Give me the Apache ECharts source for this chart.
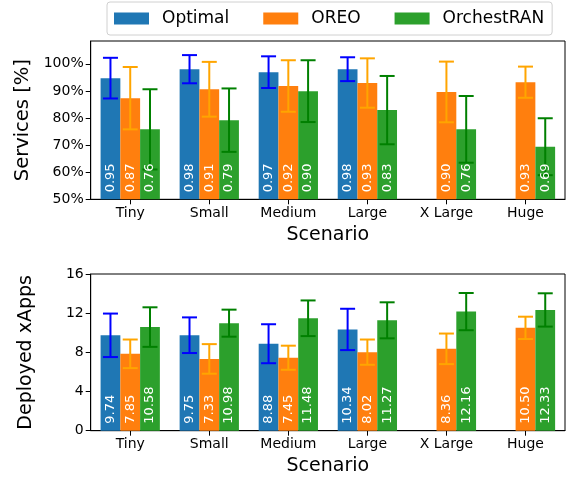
<!DOCTYPE html>
<html><head><meta charset="utf-8">
<script src="https://cdn.jsdelivr.net/npm/echarts@6/dist/echarts.min.js"></script>
<style>html,body{margin:0;padding:0;background:#fff}#c{width:570px;height:483px}</style>
</head><body><div id="c"></div>
<script>
// ---- data ----
const categories = ['Tiny', 'Small', 'Medium', 'Large', 'X Large', 'Huge'];
const seriesNames = ['Optimal', 'OREO', 'OrchestRAN'];

const servOptimal = [0.947, 0.980, 0.969, 0.980, null, null];
const servOREO = [0.873, 0.906, 0.918, 0.929, 0.896, 0.932];
const servOrch = [0.758, 0.792, 0.899, 0.829, 0.758, 0.694];
const servOptimalErr = [0.075, 0.052, 0.0585, 0.044, null, null];
const servOREOErr = [0.115, 0.101, 0.095, 0.091, 0.112, 0.0575];
const servOrchErr = [0.148, 0.117, 0.114, 0.126, 0.123, 0.105];

const appsOptimal = [9.74, 9.75, 8.88, 10.34, null, null];
const appsOREO = [7.85, 7.33, 7.45, 8.02, 8.36, 10.50];
const appsOrch = [10.58, 10.98, 11.48, 11.27, 12.16, 12.33];
const appsOptimalErr = [2.22, 1.82, 1.99, 2.11, null, null];
const appsOREOErr = [1.46, 1.51, 1.23, 1.29, 1.56, 1.14];
const appsOrchErr = [2.02, 1.38, 1.82, 1.84, 1.90, 1.70];

const servTicks = [0.5, 0.6, 0.7, 0.8, 0.9, 1.0];
const appsTicks = [0, 4, 8, 12, 16];

// ---- styles ----
const FONT = 'DejaVu Sans';
const barColors = ['#1f77b4', '#ff7f0e', '#2ca02c'];
const errColors = ['#0000ff', '#ffa500', '#008000'];
const SERV_MIN = 0.5, SERV_MAX = 1.084, APPS_MIN = 0, APPS_MAX = 16;

function errRender(k, yMin) {
  return function (params, api) {
    const ci = api.value(0), m = api.value(1), e = api.value(2);
    const band = api.size([1, 0])[0];
    const bw = band * 0.25;
    const c = api.coord([ci, m]);
    const x = c[0] + (k - 1) * bw;
    const top = api.coord([ci, m + e])[1];
    const bot = api.coord([ci, m - e])[1];
    const base = api.coord([ci, yMin])[1];
    const cap = 7.5;
    const ls = { stroke: errColors[k], lineWidth: 2 };
    return {
      type: 'group',
      children: [
        { type: 'line', shape: { x1: x, y1: top, x2: x, y2: bot }, style: ls },
        { type: 'line', shape: { x1: x - cap, y1: top, x2: x + cap, y2: top }, style: ls },
        { type: 'line', shape: { x1: x - cap, y1: bot, x2: x + cap, y2: bot }, style: ls },
        { type: 'text', x: x, y: base - 7, rotation: Math.PI / 2,
          style: { x: 0, y: 0, text: m.toFixed(2), fill: '#fff', font: '13px "' + FONT + '"',
                   align: 'left', verticalAlign: 'middle' } }
      ]
    };
  };
}

function customData(means, errs) {
  const out = [];
  means.forEach((m, i) => { if (m !== null) out.push([i, m, errs[i]]); });
  return out;
}

const servMeans = [servOptimal, servOREO, servOrch];
const servErrs = [servOptimalErr, servOREOErr, servOrchErr];
const appsMeans = [appsOptimal, appsOREO, appsOrch];
const appsErrs = [appsOptimalErr, appsOREOErr, appsOrchErr];

const series = [];
[servMeans, appsMeans].forEach((group, gi) => {
  group.forEach((vals, k) => {
    series.push({
      type: 'bar', name: seriesNames[k], xAxisIndex: gi, yAxisIndex: gi,
      data: vals, barWidth: '25%', barGap: '0%', itemStyle: { color: barColors[k] },
      z: 2, silent: true
    });
  });
});
[[servMeans, servErrs, SERV_MIN], [appsMeans, appsErrs, APPS_MIN]].forEach(([means, errs, ymin], gi) => {
  means.forEach((vals, k) => {
    series.push({
      type: 'custom', xAxisIndex: gi, yAxisIndex: gi, z: 5, silent: true,
      renderItem: errRender(k, ymin),
      data: customData(vals, errs[k]),
      encode: { x: 0, y: 1 }
    });
  });
});

const axisLineStyle = { show: true, lineStyle: { color: '#000', width: 1 } };
const tickStyle = { show: true, length: 5, lineStyle: { color: '#000' } };
function xAxis(gi) {
  return {
    type: 'category', gridIndex: gi, data: categories,
    axisLine: axisLineStyle,
    axisTick: Object.assign({ alignWithLabel: true }, tickStyle),
    axisLabel: { color: '#000', fontFamily: FONT, fontSize: 14, margin: 7 },
    name: 'Scenario', nameLocation: 'middle', nameGap: 26,
    nameTextStyle: { color: '#000', fontFamily: FONT, fontSize: 19 }
  };
}

const option = {
  animation: false,
  backgroundColor: '#fff',
  legend: {
    data: seriesNames, left: 107, top: 2,
    padding: [8, 8, 8, 7],
    borderColor: '#d0d0d0', borderWidth: 1, borderRadius: 3,
    itemWidth: 35, itemHeight: 12, itemGap: 34,
    icon: 'rect',
    textStyle: { color: '#000', fontFamily: FONT, fontSize: 17, padding: [0, 0, 0, 8] }
  },
  grid: [
    { left: 90.7, right: 5, top: 41, height: 158.3, show: true, borderColor: '#000', borderWidth: 1, backgroundColor: 'transparent' },
    { left: 90.7, right: 5, top: 274, height: 156.7, show: true, borderColor: '#000', borderWidth: 1, backgroundColor: 'transparent' }
  ],
  xAxis: [xAxis(0), xAxis(1)],
  yAxis: [
    {
      type: 'value', gridIndex: 0, min: SERV_MIN, max: SERV_MAX,
      axisLine: axisLineStyle,
      axisTick: Object.assign({ customValues: servTicks }, tickStyle),
      splitLine: { show: false },
      axisLabel: { customValues: servTicks, color: '#000', fontFamily: FONT, fontSize: 14, margin: 7,
                   formatter: v => Math.round(v * 100) + '%' },
      name: 'Services [%]', nameLocation: 'middle', nameGap: 54,
      nameTextStyle: { color: '#000', fontFamily: FONT, fontSize: 19.5 }
    },
    {
      type: 'value', gridIndex: 1, min: APPS_MIN, max: APPS_MAX,
      axisLine: axisLineStyle,
      axisTick: Object.assign({ customValues: appsTicks }, tickStyle),
      splitLine: { show: false },
      axisLabel: { customValues: appsTicks, color: '#000', fontFamily: FONT, fontSize: 14, margin: 7 },
      name: 'Deployed xApps', nameLocation: 'middle', nameGap: 55,
      nameTextStyle: { color: '#000', fontFamily: FONT, fontSize: 19 }
    }
  ],
  series: series
};

const chart = echarts.init(document.getElementById('c'), null, { renderer: 'canvas' });
chart.setOption(option);
</script>
</body></html>
